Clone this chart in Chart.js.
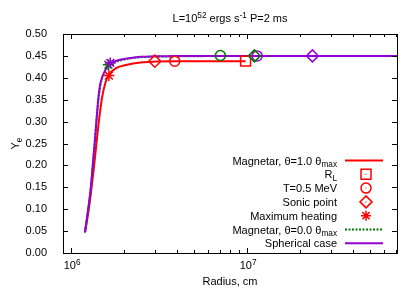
<!DOCTYPE html>
<html>
<head>
<meta charset="utf-8">
<script src="https://cdn.jsdelivr.net/npm/chart.js@4/dist/chart.umd.min.js"></script>
<style>
  body { margin: 0; background: #fff; }
  canvas { display: block; }
</style>
</head>
<body>
<canvas id="yeChart" width="415" height="291"></canvas>
<script>
// Magnetar, theta = 1.0 theta_max (red)
const radiusMag1 = [1.2e6, 1.25e6, 1.29e6, 1.344e6, 1.39e6, 1.435e6, 1.5e6, 1.57e6, 1.64e6, 1.8e6, 2.08e6, 2.48e6, 3e6, 4e6, 6e6, 9.8e6];
const yeMag1 = [0.047, 0.09, 0.13, 0.19, 0.245, 0.297, 0.355, 0.39, 0.407, 0.422, 0.430, 0.435, 0.437, 0.438, 0.438, 0.438];

// Magnetar, theta = 0.0 theta_max (green, dotted)
const radiusMag0 = [1.2e6, 1.29e6, 1.344e6, 1.405e6, 1.467e6, 1.566e6, 1.64e6, 1.85e6, 2.48e6, 4e6, 1.1e7];
const yeMag0 = [0.047, 0.14, 0.222, 0.318, 0.382, 0.414, 0.428, 0.438, 0.447, 0.449, 0.450];

// Spherical case (purple)
const radiusSph = [1.2e6, 1.25e6, 1.29e6, 1.344e6, 1.375e6, 1.405e6, 1.435e6, 1.467e6, 1.566e6, 1.67e6, 1.85e6, 2.08e6, 2.48e6, 3e6, 4e6, 6e6, 1e7, 2e7, 7.1e7];
const yeSph = [0.047, 0.10, 0.144, 0.225, 0.27, 0.32, 0.36, 0.387, 0.418, 0.433, 0.440, 0.444, 0.448, 0.449, 0.450, 0.450, 0.450, 0.450, 0.450];

// special points: [magnetar 1.0, magnetar 0.0, spherical]
const lightCylR = [9.8e6];
const lightCylYe = [0.438];
const tempR = [3.88e6, 7.05e6, 1.14e7];
const tempYe = [0.438, 0.451, 0.450];
const sonicR = [2.99e6, 1.1e7, 2.35e7];
const sonicYe = [0.438, 0.450, 0.450];
const heatR = [1.64e6, 1.63e6, 1.67e6];
const heatYe = [0.405, 0.430, 0.434];

const yTicks = [0, 0.05, 0.1, 0.15, 0.2, 0.25, 0.3, 0.35, 0.4, 0.45, 0.5];
const xMajor = [1e6, 1e7];
const xRange = [9e5, 7.1e7];

const RED = '#ff0000';
const GREEN = '#007800';
const PURPLE = '#9400d3';
const FONT = "'Liberation Sans', Arial, sans-serif";
const markColors = [RED, GREEN, PURPLE];

const pts = (xs, ys) => xs.map((x, i) => ({ x: x, y: ys[i] }));

const curve = (data, color, order, dash) => ({
    data: data,
    borderColor: color,
    borderWidth: 2,
    borderDash: dash || [],
    pointRadius: 0,
    cubicInterpolationMode: 'monotone',
    fill: false,
    order: order
});

const marks = (data, style, radius, colors, order) => ({
    data: data,
    showLine: false,
    pointStyle: style,
    pointRadius: radius,
    pointBorderColor: colors,
    pointBackgroundColor: 'rgba(0,0,0,0)',
    pointBorderWidth: 1.5,
    order: order
});

// rich text: segments of [text, mode] where mode is '', 'sup' or 'sub'
function richWidth(ctx, segs, size) {
    let w = 0;
    segs.forEach(([t, m]) => {
        ctx.font = (m ? size * 0.75 : size) + 'px ' + FONT;
        w += ctx.measureText(t).width;
    });
    return w;
}

function drawRich(ctx, segs, x, y, size, align) {
    const w = richWidth(ctx, segs, size);
    let cx = align === 'right' ? x - w : align === 'center' ? x - w / 2 : x;
    ctx.textAlign = 'left';
    ctx.textBaseline = 'alphabetic';
    segs.forEach(([t, m]) => {
        ctx.font = (m ? size * 0.75 : size) + 'px ' + FONT;
        const dy = m === 'sup' ? -size * 0.4 : m === 'sub' ? size * 0.25 : 0;
        ctx.fillText(t, cx, y + dy);
        cx += ctx.measureText(t).width;
    });
}

const framePlugin = {
    id: 'frame',
    afterDraw(chart) {
        const ctx = chart.ctx;
        const a = chart.chartArea;
        const xs = chart.scales.x;
        const ys = chart.scales.y;
        ctx.save();
        ctx.strokeStyle = '#000';
        ctx.lineWidth = 1;

        // ticks, inward and mirrored
        ctx.beginPath();
        for (let d = 5; d <= 7; d++) {
            for (let k = 1; k <= 9; k++) {
                const v = k * Math.pow(10, d);
                if (v < xRange[0] || v > xRange[1]) continue;
                const px = Math.round(xs.getPixelForValue(v)) + 0.5;
                const len = k === 1 ? 5 : 3;
                ctx.moveTo(px, a.bottom); ctx.lineTo(px, a.bottom - len);
                ctx.moveTo(px, a.top); ctx.lineTo(px, a.top + len);
            }
        }
        yTicks.forEach(v => {
            const py = Math.round(ys.getPixelForValue(v)) + 0.5;
            ctx.moveTo(a.left, py); ctx.lineTo(a.left + 5, py);
            ctx.moveTo(a.right, py); ctx.lineTo(a.right - 5, py);
        });
        ctx.stroke();
        ctx.strokeRect(Math.round(a.left) + 0.5, Math.round(a.top) + 0.5,
            Math.round(a.right - a.left), Math.round(a.bottom - a.top));

        ctx.fillStyle = '#000';
        // x tick labels
        xMajor.forEach(v => {
            const px = xs.getPixelForValue(v);
            drawRich(ctx, [['10', ''], [String(Math.round(Math.log10(v))), 'sup']], px + 1, 269, 11, 'center');
        });
        // axis titles
        drawRich(ctx, [['Radius, cm', '']], (a.left + a.right) / 2, 285, 11, 'center');
        ctx.save();
        ctx.translate(19, (a.top + a.bottom) / 2);
        ctx.rotate(-Math.PI / 2);
        drawRich(ctx, [['Y', ''], ['e', 'sub']], 0, 0, 11, 'center');
        ctx.restore();
        // title
        drawRich(ctx, [['L=10', ''], ['52', 'sup'], [' ergs s', ''], ['-1', 'sup'], [' P=2 ms', '']],
            (a.left + a.right) / 2, 22, 11, 'center');

        // legend
        const tx = 337, sx0 = 345, sx1 = 383, mx = 366;
        const rows = [
            { segs: [['Magnetar, θ=1.0 θ', ''], ['max', 'sub']], kind: 'line', color: RED },
            { segs: [['R', ''], ['L', 'sub']], kind: 'rect', color: RED },
            { segs: [['T=0.5 MeV', '']], kind: 'circle', color: RED },
            { segs: [['Sonic point', '']], kind: 'diamond', color: RED },
            { segs: [['Maximum heating', '']], kind: 'star', color: RED },
            { segs: [['Magnetar, θ=0.0 θ', ''], ['max', 'sub']], kind: 'dots', color: GREEN },
            { segs: [['Spherical case', '']], kind: 'line', color: PURPLE }
        ];
        rows.forEach((r, i) => {
            const cy = 160.5 + i * 13.8;
            ctx.fillStyle = '#000';
            drawRich(ctx, r.segs, tx, cy + 4, 11, 'right');
            ctx.strokeStyle = r.color;
            ctx.fillStyle = r.color;
            ctx.setLineDash([]);
            ctx.lineWidth = 1.5;
            ctx.beginPath();
            if (r.kind === 'line' || r.kind === 'dots') {
                ctx.lineWidth = 2;
                if (r.kind === 'dots') ctx.setLineDash([2, 1.5]);
                ctx.moveTo(sx0, cy); ctx.lineTo(sx1, cy);
                ctx.stroke();
                ctx.setLineDash([]);
                return;
            }
            if (r.kind === 'rect') ctx.rect(mx - 5, cy - 5, 10, 10);
            if (r.kind === 'circle') ctx.arc(mx, cy, 5, 0, Math.PI * 2);
            if (r.kind === 'diamond') {
                ctx.moveTo(mx, cy - 6); ctx.lineTo(mx + 6, cy); ctx.lineTo(mx, cy + 6); ctx.lineTo(mx - 6, cy); ctx.closePath();
            }
            if (r.kind === 'star') {
                ctx.moveTo(mx - 5, cy); ctx.lineTo(mx + 5, cy);
                ctx.moveTo(mx, cy - 5); ctx.lineTo(mx, cy + 5);
                ctx.moveTo(mx - 3.6, cy - 3.6); ctx.lineTo(mx + 3.6, cy + 3.6);
                ctx.moveTo(mx - 3.6, cy + 3.6); ctx.lineTo(mx + 3.6, cy - 3.6);
            }
            ctx.stroke();
            if (r.kind !== 'star') ctx.fillRect(mx - 0.5, cy - 0.5, 1, 1);
        });
        ctx.restore();
    }
};

const ctx = document.getElementById('yeChart').getContext('2d');
const yeChart = new Chart(ctx, {
    type: 'line',
    data: {
        datasets: [
            curve(pts(radiusMag1, yeMag1), RED, 6),
            curve(pts(radiusMag0, yeMag0), GREEN, 5, [2, 1.5]),
            curve(pts(radiusSph, yeSph), PURPLE, 4),
            marks(pts(lightCylR, lightCylYe), 'rect', 7, [RED], 3),
            marks(pts(tempR, tempYe), 'circle', 5, markColors, 2),
            marks(pts(sonicR, sonicYe), 'rectRot', 6, markColors, 1),
            marks(pts(heatR, heatYe), 'star', 5.5, markColors, 0)
        ]
    },
    options: {
        responsive: false,
        animation: false,
        events: [],
        layout: { padding: { left: 0, right: 18, top: 34, bottom: 0 } },
        plugins: {
            legend: { display: false },
            title: { display: false },
            tooltip: { enabled: false }
        },
        scales: {
            x: {
                type: 'logarithmic',
                min: xRange[0],
                max: xRange[1],
                grid: { display: false },
                border: { display: false },
                ticks: { display: false },
                afterFit: (scale) => { scale.height = 38; }
            },
            y: {
                min: 0,
                max: 0.5,
                grid: { display: false },
                border: { display: false },
                afterBuildTicks: (scale) => { scale.ticks = yTicks.map(v => ({ value: v })); },
                ticks: {
                    padding: 8,
                    color: '#000',
                    font: { family: FONT, size: 11 },
                    callback: (v) => Number(v).toFixed(2)
                },
                afterFit: (scale) => { scale.width = 63; }
            }
        }
    },
    plugins: [framePlugin]
});
</script>
</body>
</html>
